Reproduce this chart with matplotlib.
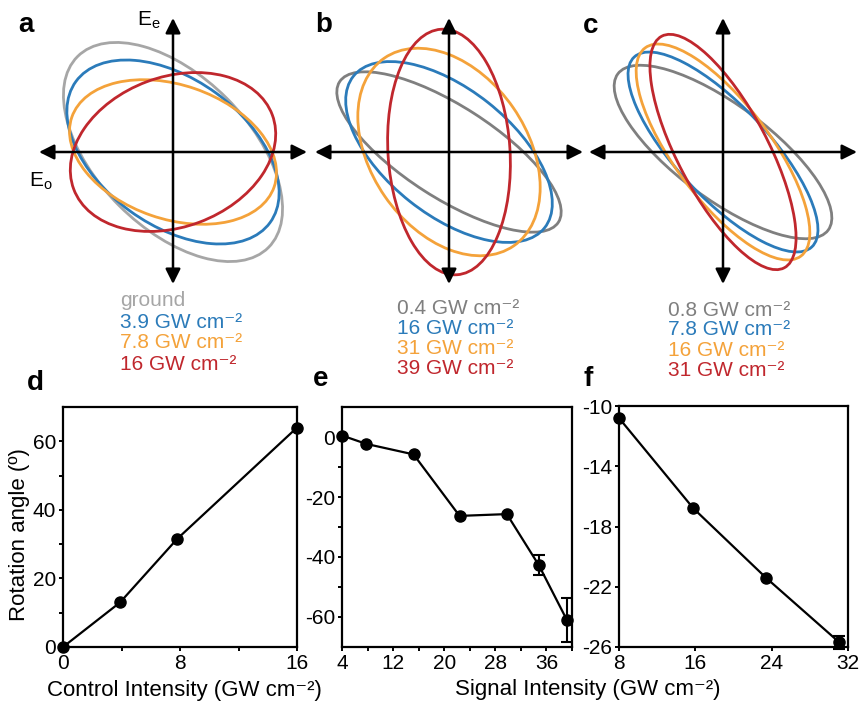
import numpy as np
import matplotlib.pyplot as plt
from matplotlib.patches import Ellipse

plt.rcParams['font.family'] = ['Liberation Sans', 'DejaVu Sans']
plt.rcParams['mathtext.fontset'] = 'custom'
plt.rcParams['mathtext.rm'] = 'Liberation Sans'
plt.rcParams['mathtext.it'] = 'Liberation Sans:italic'
plt.rcParams['axes.unicode_minus'] = False

W, H = 861, 709
SUP = 'cm\u207b\u00b2'

# Polarization ellipses (semi-axes in px, orientation in degrees)
a_major = [135, 120, 107, 106]
a_minor = [76, 73, 67, 75]
a_angle = [-45, -36, -19, 20.5]
a_labels = ['ground', '3.9 GW ' + SUP, '7.8 GW ' + SUP, '16 GW ' + SUP]

b_major = [130, 122, 114, 123]
b_minor = [46, 63, 78, 61]
b_angle = [-32.7, -38.4, -55.4, -86.3]
b_labels = ['0.4 GW ' + SUP, '16 GW ' + SUP, '31 GW ' + SUP, '39 GW ' + SUP]

c_major = [131, 130, 130, 131]
c_minor = [47, 46, 48, 45]
c_angle = [-36.6, -46.9, -53.2, -62.1]
c_labels = ['0.8 GW ' + SUP, '7.8 GW ' + SUP, '16 GW ' + SUP, '31 GW ' + SUP]

# Rotation angle data
d_x = [0, 3.9, 7.8, 16]
d_y = [0, 13, 31.5, 64]

e_x = [4, 7.8, 15.2, 22.4, 29.8, 34.8, 39.2]
e_y = [0.5, -2.3, -5.8, -26.3, -25.7, -42.7, -61]
e_err = [0, 0, 0, 0, 0, 3.3, 7.3]

f_x = [8, 15.8, 23.4, 31.1]
f_y = [-10.8, -16.8, -21.4, -25.7]
f_err = [0, 0, 0, 0.4]

gray_a = '#a6a6a6'
gray = '#7f7f7f'
blue = '#2b7bba'
orange = '#f4a23a'
red = '#c0272d'

fig = plt.figure(figsize=(W / 100, H / 100), dpi=100)


def fax(left, top, width, height):
    return fig.add_axes([left / W, 1 - (top + height) / H, width / W, height / H])


def ellipse_panel(cx, major, minor, angle, colors, labels, lx, ly):
    ax = fax(cx - 140, 152 - 140, 280, 280)
    ax.set_xlim(-140, 140)
    ax.set_ylim(-140, 140)
    ax.set_aspect('equal')
    ax.axis('off')
    ax.patch.set_alpha(0)
    for a, b, t, c in zip(major, minor, angle, colors):
        ax.add_patch(Ellipse((0, 0), 2 * a, 2 * b, angle=t, fill=False,
                             edgecolor=c, lw=2))
    ap = dict(arrowstyle='<|-|>,head_length=0.6,head_width=0.3', color='k',
              lw=1.8, shrinkA=0, shrinkB=0, mutation_scale=15)
    ax.annotate('', xy=(134, 0), xytext=(-134, 0), arrowprops=ap,
                annotation_clip=False, zorder=5)
    ax.annotate('', xy=(0, 134), xytext=(0, -132), arrowprops=ap,
                annotation_clip=False, zorder=5)
    for txt, c, y in zip(labels, colors, ly):
        fig.text(lx / W, 1 - y / H, txt, color=c, fontsize=15,
                 ha='left', va='center')
    return ax


ellipse_panel(173, a_major, a_minor, a_angle, [gray_a, blue, orange, red],
              a_labels, 120, [300, 322, 343, 364])
ellipse_panel(449, b_major, b_minor, b_angle, [gray, blue, orange, red],
              b_labels, 397, [309, 329, 349, 369])
ellipse_panel(723, c_major, c_minor, c_angle, [gray, blue, orange, red],
              c_labels, 668, [310, 330, 350, 371])

fig.text(137 / W, 1 - 20 / H, 'E$_\\mathrm{e}$', fontsize=15, ha='left', va='center')
fig.text(29 / W, 1 - 181 / H, 'E$_\\mathrm{o}$', fontsize=15, ha='left', va='center')

for s, x, y in [('a', 18, 25), ('b', 315, 25), ('c', 583, 26),
                ('d', 27, 383), ('e', 313, 379), ('f', 583, 379)]:
    fig.text(x / W, 1 - y / H, s, fontsize=20, fontweight='bold',
             ha='left', va='center')


def style(ax):
    for sp in ax.spines.values():
        sp.set_linewidth(1.6)
    ax.tick_params(which='both', direction='out', width=1.4, labelsize=15, pad=2)
    ax.tick_params(which='major', length=3)
    ax.tick_params(which='minor', length=3)


# d
axd = fax(63, 407, 234, 240)
axd.plot(d_x, d_y, '-o', color='k', lw=1.6, ms=8, clip_on=False, zorder=4)
axd.set_xlim(0, 16)
axd.set_ylim(0, 70)
axd.set_xticks([0, 8, 16])
axd.set_xticks([4, 12], minor=True)
axd.set_yticks([0, 20, 40, 60])
axd.set_yticks([10, 30, 50], minor=True)
style(axd)
axd.set_ylabel('Rotation angle (º)', fontsize=16)
axd.yaxis.label.set_va('center')
axd.yaxis.set_label_coords(-0.185, 0.47)
axd.set_xlabel('Control Intensity (GW ' + SUP + ')', fontsize=16)
axd.xaxis.label.set_va('center')
axd.xaxis.set_label_coords(0.52, -0.18)

# e
axe = fax(342, 407, 230, 240)
axe.plot(e_x, e_y, '-o', color='k', lw=1.6, ms=8, clip_on=False, zorder=4)
e_x_arr, e_y_arr, e_err_arr = np.array(e_x), np.array(e_y), np.array(e_err)
m = e_err_arr > 0
axe.errorbar(e_x_arr[m], e_y_arr[m], yerr=e_err_arr[m], fmt='none', ecolor='k',
             elinewidth=1.5, capsize=4, capthick=1.5, clip_on=False)
axe.set_xlim(4, 40)
axe.set_ylim(-70, 10)
axe.set_xticks([4, 12, 20, 28, 36])
axe.set_xticks([8, 16, 24, 32, 40], minor=True)
axe.set_yticks([0, -20, -40, -60])
axe.set_yticks([-10, -30, -50], minor=True)
style(axe)

# f
axf = fax(619, 406, 229, 241)
axf.plot(f_x, f_y, '-o', color='k', lw=1.6, ms=8, clip_on=False, zorder=4)
f_x_arr, f_y_arr, f_err_arr = np.array(f_x), np.array(f_y), np.array(f_err)
m = f_err_arr > 0
axf.errorbar(f_x_arr[m], f_y_arr[m], yerr=f_err_arr[m], fmt='none', ecolor='k',
             elinewidth=1.5, capsize=4, capthick=1.5, clip_on=False)
axf.set_xlim(8, 32)
axf.set_ylim(-26, -10)
axf.set_xticks([8, 16, 24, 32])
axf.set_yticks([-10, -14, -18, -22, -26])
style(axf)

fig.text(588 / W, 1 - 690 / H, 'Signal Intensity (GW ' + SUP + ')',
         fontsize=16, ha='center', va='center')

fig.savefig('out.png', dpi=100)
